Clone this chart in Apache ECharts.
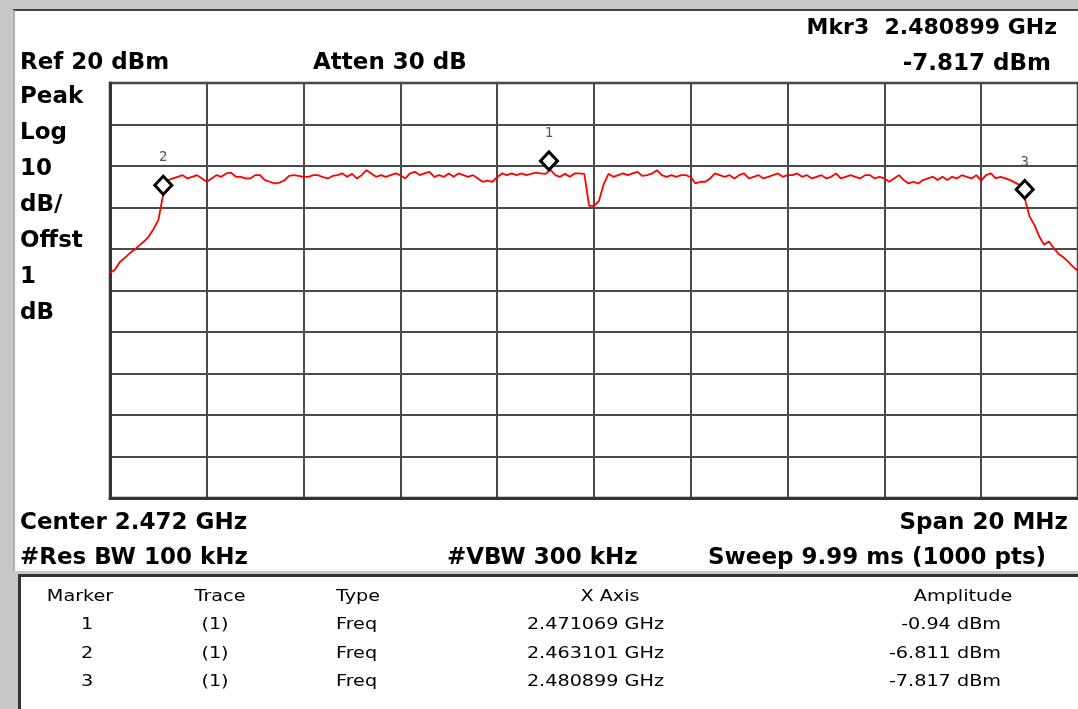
<!DOCTYPE html>
<html>
<head>
<meta charset="utf-8">
<script src="https://cdn.jsdelivr.net/npm/echarts@6/dist/echarts.min.js"></script>
<style>
html, body { margin: 0; padding: 0; background: #fff; }
#chart { width: 1078px; height: 709px; }
</style>
</head>
<body>
<div id="chart"></div>
<script>
// sweep: 2.462 GHz .. 2.482 GHz (center 2.472, span 20 MHz), sampled every 0.1 MHz
const sweepStart = 2462;
const sweepStep = 0.1;
const traceLevels = [
  -25.8, -25.0, -23.2, -22.2, -21.1, -20.2, -19.2, -18.2, -17.0, -15.2,
  -13.0, -6.8, -3.4, -3.0, -2.6, -2.2, -3.0, -2.6, -2.2, -3.0,
  -3.8, -3.0, -2.2, -2.6, -1.8, -1.6, -2.6, -2.6, -3.0, -3.0,
  -2.2, -2.2, -3.4, -3.8, -4.2, -4.0, -3.5, -2.4, -2.2, -2.4,
  -2.6, -2.6, -2.2, -2.2, -2.7, -3.0, -2.4, -2.2, -1.8, -2.6,
  -1.9, -3.0, -2.2, -1.0, -1.8, -2.6, -2.2, -2.6, -2.2, -1.8,
  -2.2, -3.0, -1.8, -1.4, -2.2, -1.8, -1.4, -2.6, -2.2, -2.6,
  -1.8, -2.6, -1.8, -2.2, -2.6, -2.2, -3.0, -3.8, -3.5, -3.8,
  -2.7, -1.8, -2.2, -1.8, -2.2, -1.8, -2.2, -1.9, -1.6, -1.8,
  -1.9, -0.9, -2.2, -2.6, -1.9, -2.6, -1.8, -1.8, -1.9, -9.6,
  -9.6, -8.5, -4.4, -1.9, -2.6, -2.2, -1.8, -2.2, -1.8, -1.4,
  -2.4, -2.2, -1.8, -1.0, -2.2, -2.6, -2.2, -2.6, -2.2, -2.2,
  -2.7, -4.2, -3.8, -3.8, -3.0, -1.8, -2.2, -2.6, -2.2, -3.0,
  -2.2, -1.8, -3.0, -2.6, -2.2, -3.0, -2.6, -2.2, -1.8, -2.6,
  -2.2, -2.2, -1.8, -2.6, -2.2, -3.0, -2.6, -2.2, -3.0, -2.6,
  -1.8, -3.0, -2.6, -2.2, -2.6, -3.0, -2.2, -2.2, -3.0, -2.6,
  -3.0, -3.8, -3.0, -2.2, -3.4, -4.2, -3.8, -4.2, -3.4, -3.0,
  -2.6, -3.4, -2.6, -3.4, -2.6, -3.0, -2.2, -2.6, -3.0, -2.2,
  -3.5, -2.2, -1.8, -3.0, -2.6, -3.0, -3.4, -4.0, -4.6, -7.8,
  -12.2, -14.2, -17.0, -19.0, -18.2, -19.8, -21.2, -22.0, -23.1, -24.3,
  -25.3
];

const markerIds = ['1', '2', '3'];
const markerFreqs = [2471.069, 2463.101, 2480.899];
const markerLevels = [-0.94, -6.811, -7.817];

const leftLabels = ['Peak', 'Log', '10', 'dB/', 'Offst', '1', 'dB'];
const tableHeader = ['Marker', 'Trace', 'Type', 'X Axis', 'Amplitude'];
const tableRows = [
  ['1', '(1)', 'Freq', '2.471069 GHz', '-0.94 dBm'],
  ['2', '(1)', 'Freq', '2.463101 GHz', '-6.811 dBm'],
  ['3', '(1)', 'Freq', '2.480899 GHz', '-7.817 dBm']
];

const boldFont = 'bold 23px "DejaVu Sans"';
const tableFont = '16px "DejaVu Sans"';

function txt(text, x, y, align, font, extra) {
  return Object.assign({
    type: 'text',
    x: x,
    y: y,
    z: 10,
    style: {
      text: text,
      font: font || boldFont,
      fill: '#000',
      textAlign: align || 'left',
      textVerticalAlign: 'middle'
    }
  }, extra || {});
}

const graphics = [
  { type: 'rect', shape: { x: 0, y: 0, width: 1078, height: 9 }, style: { fill: '#c8c8c8' } },
  { type: 'rect', shape: { x: 0, y: 0, width: 13, height: 709 }, style: { fill: '#c8c8c8' } },
  { type: 'line', shape: { x1: 13, y1: 10, x2: 1078, y2: 10 }, style: { stroke: '#444', lineWidth: 2 } },
  { type: 'line', shape: { x1: 14, y1: 10, x2: 14, y2: 709 }, style: { stroke: '#999', lineWidth: 1.5 } },
  { type: 'rect', shape: { x: 13, y: 571, width: 1065, height: 3 }, style: { fill: '#c8c8c8' } },
  { type: 'rect', shape: { x: 13, y: 571, width: 5, height: 138 }, style: { fill: '#c8c8c8' } },
  { type: 'line', shape: { x1: 18, y1: 575.5, x2: 1078, y2: 575.5 }, style: { stroke: '#333', lineWidth: 3 } },
  { type: 'line', shape: { x1: 19.5, y1: 575, x2: 19.5, y2: 709 }, style: { stroke: '#333', lineWidth: 3 } },

  txt('Mkr3  2.480899 GHz', 1057, 28, 'right', 'bold 22px "DejaVu Sans"'),
  txt('Ref 20 dBm', 20, 63),
  txt('Atten 30 dB', 313, 63),
  txt('-7.817 dBm', 1051, 64, 'right'),
  txt('Center 2.472 GHz', 20, 523),
  txt('Span 20 MHz', 1068, 523, 'right'),
  txt('#Res BW 100 kHz', 20, 558),
  txt('#VBW 300 kHz', 447, 558),
  txt('Sweep 9.99 ms (1000 pts)', 708, 558)
];

leftLabels.forEach(function (s, i) {
  graphics.push(txt(s, 20, 97 + i * 36));
});

// table: column anchors
const colX = [80, 220, 336, 610, 963];
const rowX = [87, 215, 336, 664, 1001];
const rowAlign = ['center', 'center', 'left', 'right', 'right'];
tableHeader.forEach(function (s, c) {
  graphics.push(txt(s, colX[c], 597, c === 2 ? 'left' : 'center', tableFont, { scaleX: 1.2 }));
});
tableRows.forEach(function (row, r) {
  row.forEach(function (s, c) {
    graphics.push(txt(s, rowX[c], 625 + r * 28.5, rowAlign[c], tableFont, { scaleX: 1.2 }));
  });
});

const traceData = traceLevels.map(function (v, i) {
  return [+(sweepStart + i * sweepStep).toFixed(2), v];
});
const markerData = markerFreqs.map(function (f, i) {
  return { name: markerIds[i], value: [f, markerLevels[i]] };
});

const chart = echarts.init(document.getElementById('chart'));
chart.setOption({
  animation: false,
  backgroundColor: '#fff',
  grid: {
    left: 110, top: 83, width: 970, height: 415,
    show: true, borderColor: '#333', borderWidth: 2.5
  },
  xAxis: {
    type: 'value', min: 2462, max: 2482, interval: 2,
    axisLabel: { show: false }, axisTick: { show: false },
    axisLine: { show: true, onZero: false, lineStyle: { color: '#333', width: 3 } },
    splitLine: { show: true, lineStyle: { color: '#4a4a4a', width: 2 } }
  },
  yAxis: {
    type: 'value', min: -80, max: 20, interval: 10,
    axisLabel: { show: false }, axisTick: { show: false },
    axisLine: { show: true, onZero: false, lineStyle: { color: '#333', width: 3 } },
    splitLine: { show: true, lineStyle: { color: '#4a4a4a', width: 2 } }
  },
  graphic: graphics,
  series: [
    {
      type: 'line',
      data: traceData,
      showSymbol: false,
      symbol: 'none',
      lineStyle: { color: '#ff0000', width: 1.8 },
      z: 3
    },
    {
      type: 'scatter',
      data: markerData,
      symbol: 'diamond',
      symbolSize: [17, 18],
      symbolOffset: [0, '-50%'],
      itemStyle: { color: '#fff', borderColor: '#000', borderWidth: 3, opacity: 1 },
      label: {
        show: true,
        position: 'top',
        distance: 10,
        formatter: '{b}',
        color: '#555',
        fontSize: 14,
        fontFamily: '"DejaVu Sans Mono"'
      },
      z: 5
    }
  ]
});
</script>
</body>
</html>
